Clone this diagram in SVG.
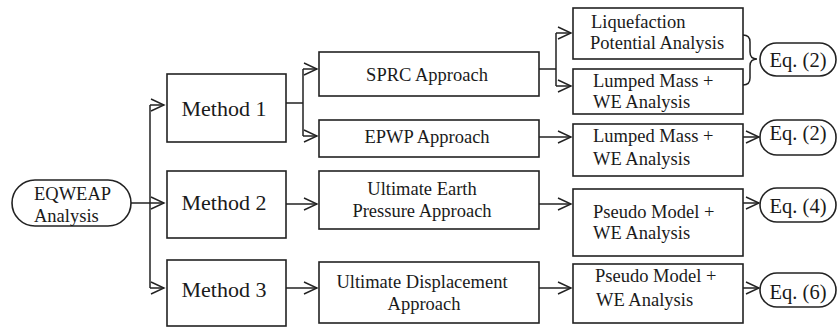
<svg xmlns="http://www.w3.org/2000/svg" width="838" height="327" viewBox="0 0 838 327">
<defs>
<marker id="arr" markerUnits="userSpaceOnUse" markerWidth="16" markerHeight="16" refX="13" refY="7" orient="auto" overflow="visible">
<path d="M0,1 L13,7 L0,13" fill="none" stroke="#222" stroke-width="1.4"/>
</marker>
<style>
.box{fill:#fff;stroke:#222;stroke-width:1.6}
.ln{fill:none;stroke:#222;stroke-width:1.5}
.t{font-family:"Liberation Serif","Times New Roman",serif;fill:#1a1a1a}
.m{font-size:22px;text-anchor:middle}
.a{font-size:18.5px;text-anchor:middle}
.r{font-size:18.5px}
.e{font-size:20.5px;text-anchor:middle}
</style>
</defs>
<rect width="838" height="327" fill="#fff"/>

<g id="connectors">
<path class="ln" d="M131,203 H150"/>
<path class="ln" d="M150,105 V288"/>
<path class="ln" d="M150,105 H164" marker-end="url(#arr)"/>
<path class="ln" d="M150,203 H164" marker-end="url(#arr)"/>
<path class="ln" d="M150,288 H164" marker-end="url(#arr)"/>
<path class="ln" d="M286,103 H303 M303,69 V136"/>
<path class="ln" d="M303,69 H317" marker-end="url(#arr)"/>
<path class="ln" d="M303,136 H317" marker-end="url(#arr)"/>
<path class="ln" d="M286,204 H317" marker-end="url(#arr)"/>
<path class="ln" d="M286,288 H317" marker-end="url(#arr)"/>
<path class="ln" d="M539,69 H556 M556,33 V86"/>
<path class="ln" d="M556,33 H571" marker-end="url(#arr)"/>
<path class="ln" d="M556,86 H571" marker-end="url(#arr)"/>
<path class="ln" d="M539,137 H571" marker-end="url(#arr)"/>
<path class="ln" d="M539,204 H571" marker-end="url(#arr)"/>
<path class="ln" d="M539,288 H571" marker-end="url(#arr)"/>
<path class="ln" d="M743,35 Q750,35 750,42 V52 Q750,59 757,59 Q750,59 750,66 V78 Q750,85 743,85"/>
<path class="ln" d="M743,137 H759" marker-end="url(#arr)"/>
<path class="ln" d="M743,203 H759" marker-end="url(#arr)"/>
<path class="ln" d="M743,288 H759" marker-end="url(#arr)"/>
</g>

<g id="eqweap">
<rect class="box" x="12" y="180" width="119" height="46" rx="23"/>
<text class="t r" x="34" y="200">EQWEAP</text>
<text class="t r" x="34" y="222">Analysis</text>
</g>

<g id="method1">
<rect class="box" x="167" y="74" width="119" height="68"/>
<text class="t m" x="224" y="116">Method 1</text>
</g>
<g id="method2">
<rect class="box" x="167" y="171" width="119" height="67"/>
<text class="t m" x="224" y="210">Method 2</text>
</g>
<g id="method3">
<rect class="box" x="167" y="260" width="119" height="66"/>
<text class="t m" x="224" y="297">Method 3</text>
</g>

<g id="sprc">
<rect class="box" x="319" y="52" width="220" height="44"/>
<text class="t a" x="427" y="81">SPRC Approach</text>
</g>
<g id="epwp">
<rect class="box" x="319" y="120" width="220" height="37"/>
<text class="t a" x="427" y="143">EPWP Approach</text>
</g>
<g id="uep">
<rect class="box" x="319" y="171" width="220" height="58"/>
<text class="t a" x="422" y="195">Ultimate Earth</text>
<text class="t a" x="422" y="217">Pressure Approach</text>
</g>
<g id="uda">
<rect class="box" x="319" y="262" width="220" height="61"/>
<text class="t a" x="422" y="288">Ultimate Displacement</text>
<text class="t a" x="424" y="310">Approach</text>
</g>

<g id="liquefaction">
<rect class="box" x="573" y="8" width="170" height="51"/>
<text class="t r" x="591" y="28">Liquefaction</text>
<text class="t r" x="590" y="49">Potential Analysis</text>
</g>
<g id="lumped1">
<rect class="box" x="573" y="69" width="170" height="45"/>
<text class="t r" x="593" y="87">Lumped Mass +</text>
<text class="t r" x="593" y="108">WE Analysis</text>
</g>
<g id="lumped2">
<rect class="box" x="573" y="124" width="170" height="52"/>
<text class="t r" x="593" y="142">Lumped Mass +</text>
<text class="t r" x="593" y="165">WE Analysis</text>
</g>
<g id="pseudo1">
<rect class="box" x="573" y="189" width="170" height="67"/>
<text class="t r" x="593" y="218">Pseudo Model +</text>
<text class="t r" x="593" y="239">WE Analysis</text>
</g>
<g id="pseudo2">
<rect class="box" x="573" y="264" width="170" height="59"/>
<text class="t r" x="595" y="282">Pseudo Model +</text>
<text class="t r" x="596" y="306">WE Analysis</text>
</g>

<g id="eq2a">
<rect class="box" x="760" y="43" width="76" height="33" rx="16.5"/>
<text class="t e" x="798" y="67">Eq. (2)</text>
</g>
<g id="eq2b">
<rect class="box" x="760" y="120" width="76" height="35" rx="17"/>
<text class="t e" x="798" y="140">Eq. (2)</text>
</g>
<g id="eq4">
<rect class="box" x="760" y="188" width="76" height="34" rx="17"/>
<text class="t e" x="798" y="213">Eq. (4)</text>
</g>
<g id="eq6">
<rect class="box" x="760" y="273" width="76" height="34" rx="17"/>
<text class="t e" x="798" y="299">Eq. (6)</text>
</g>
</svg>
